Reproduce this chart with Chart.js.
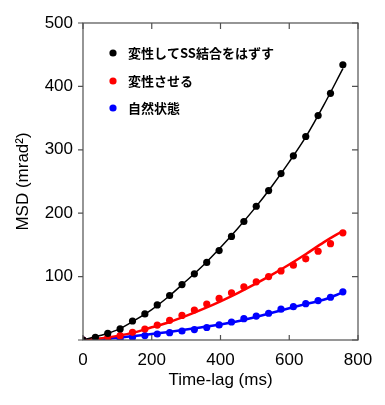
<!DOCTYPE html>
<html>
<head>
<meta charset="utf-8">
<script src="https://cdn.jsdelivr.net/npm/chart.js@4"></script>
<style>
html,body{margin:0;padding:0;background:#fff;}
canvas{display:block;}
</style>
</head>
<body>
<canvas id="c" width="385" height="405"></canvas>
<script>
// ---- data ----
const seriesLabels = ['変性してSS結合をはずす', '変性させる', '自然状態'];
const seriesColors = ['#000000', '#ff0000', '#0000ff'];

const timeLag = [0, 36, 72, 108, 144, 180, 216, 252, 288, 324, 360, 396, 432, 468, 504, 540, 576, 612, 648, 684, 720, 756];
const msdBroken = [0, 4.2, 10.5, 17.5, 30, 41.2, 55.3, 70.2, 87.4, 104.3, 122.3, 141, 163.3, 186.9, 211, 235.7, 262.5, 290.5, 321, 354, 389, 434];
const msdDenatured = [0, 1.6, 4.2, 6.8, 12.1, 17.3, 23.6, 31, 38.8, 47.2, 56.7, 65.6, 74.5, 84, 91.8, 100, 109, 118, 128, 140, 152, 169];
const msdNative = [0, 0.5, 1, 2.2, 4.2, 7, 9.5, 11.5, 14.2, 16.5, 19.7, 23.8, 28.4, 33.6, 37.8, 42.2, 48.6, 52.5, 57.3, 62.2, 67.4, 76];

const fitTime = [0, 50, 100, 150, 200, 250, 300, 350, 400, 450, 500, 550, 600, 650, 700, 756];
const fitBroken = [0, 7, 16, 31, 48, 69, 93, 118, 146, 176, 208, 243, 281, 322, 370, 428];
const fitDenatured = [0, 2.5, 6.5, 12, 20, 28, 38, 49, 61, 74, 88, 103, 119, 136, 154, 172];
const fitNative = [0, 1.5, 3.5, 6.3, 9.5, 12.8, 16.5, 20.5, 24.6, 29.5, 36, 43, 50, 57, 63.5, 75];

const xTicks = [0, 200, 400, 600, 800];
const yTicks = [0, 100, 200, 300, 400, 500];

// ---- build datasets ----
function pts(xs, ys) { return xs.map((x, i) => ({x: x, y: ys[i]})); }
const pointSets = [msdBroken, msdDenatured, msdNative];
const fitSets = [fitBroken, fitDenatured, fitNative];
const fitWidths = [1.5, 2.5, 2.5];

const datasets = [];
pointSets.forEach((ys, i) => {
  datasets.push({
    label: seriesLabels[i],
    data: pts(timeLag, ys),
    showLine: false,
    pointRadius: 3.6,
    pointBackgroundColor: seriesColors[i],
    pointBorderColor: seriesColors[i],
    pointBorderWidth: 0,
    order: 0
  });
});
fitSets.forEach((ys, i) => {
  datasets.push({
    label: seriesLabels[i] + ' fit',
    data: pts(fitTime, ys),
    showLine: true,
    pointRadius: 0,
    borderColor: seriesColors[i],
    borderWidth: fitWidths[i],
    tension: 0.4,
    cubicInterpolationMode: 'monotone',
    order: 1
  });
});

const FONT = '"Liberation Sans", Arial, sans-serif';

// frame, inward ticks and in-plot legend
const framePlugin = {
  id: 'frame',
  afterDatasetsDraw(chart) {
    const {ctx, chartArea: a, scales: {x, y}} = chart;
    ctx.save();
    ctx.strokeStyle = '#505050';
    ctx.lineWidth = 1.2;
    ctx.strokeRect(a.left, a.top, a.right - a.left, a.bottom - a.top);
    ctx.beginPath();
    xTicks.forEach(v => {
      const px = x.getPixelForValue(v);
      ctx.moveTo(px, a.bottom); ctx.lineTo(px, a.bottom - 5);
      ctx.moveTo(px, a.top); ctx.lineTo(px, a.top + 6);
    });
    yTicks.forEach(v => {
      const py = y.getPixelForValue(v);
      ctx.moveTo(a.left, py); ctx.lineTo(a.left - 5, py);
      ctx.moveTo(a.right, py); ctx.lineTo(a.right - 6, py);
    });
    ctx.stroke();
    // legend
    const lx = a.left + 30, tx = a.left + 45;
    const ly = [53, 81, 108];
    ctx.font = 'bold 13px "Noto Sans CJK JP", sans-serif';
    ctx.textBaseline = 'middle';
    ctx.textAlign = 'left';
    seriesLabels.forEach((lab, i) => {
      ctx.fillStyle = seriesColors[i];
      ctx.beginPath();
      ctx.arc(lx, ly[i], 3.6, 0, Math.PI * 2);
      ctx.fill();
      ctx.fillStyle = '#000';
      ctx.fillText(lab, tx, ly[i]);
    });
    ctx.restore();
  }
};

new Chart(document.getElementById('c'), {
  type: 'scatter',
  data: {datasets: datasets},
  options: {
    responsive: false,
    animation: false,
    devicePixelRatio: 1,
    layout: {padding: {left: 0, right: 27, top: 23, bottom: 0}},
    plugins: {legend: {display: false}, tooltip: {enabled: false}},
    scales: {
      x: {
        type: 'linear', min: 0, max: 800,
        afterBuildTicks: s => { s.ticks = xTicks.map(v => ({value: v})); },
        afterFit: s => { s.height = 65; },
        grid: {display: false, drawTicks: false},
        border: {display: false},
        ticks: {color: '#000', font: {family: FONT, size: 17}, padding: 10, maxRotation: 0},
        title: {display: true, text: 'Time-lag (ms)', color: '#000', font: {family: FONT, size: 17}, padding: {top: 0, bottom: 14}}
      },
      y: {
        type: 'linear', min: 0, max: 500,
        afterBuildTicks: s => { s.ticks = yTicks.map(v => ({value: v})); },
        afterFit: s => { s.width = 83; },
        grid: {display: false, drawTicks: false},
        border: {display: false},
        ticks: {color: '#000', font: {family: FONT, size: 17}, padding: 10,
          callback: v => (v === 0 ? '' : String(v))},
        title: {display: true, text: 'MSD (mrad²)', color: '#000', font: {family: FONT, size: 17}, padding: {top: 13, bottom: 0}}
      }
    }
  },
  plugins: [framePlugin]
});
</script>
</body>
</html>
